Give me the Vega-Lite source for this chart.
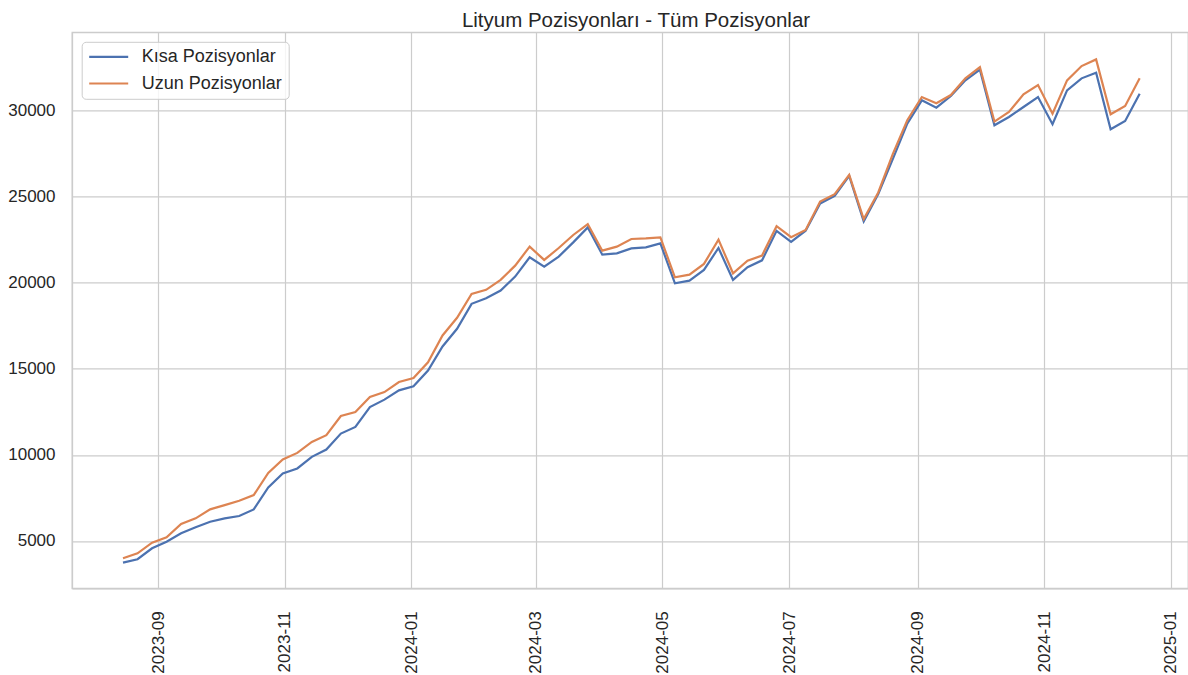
{
  "$schema": "https://vega.github.io/schema/vega-lite/v6.json",
  "autosize": {"type": "none"},
  "padding": {"left": 72, "top": 32.3, "right": 0, "bottom": 86.7},
  "width": 1116,
  "height": 556,
  "background": "white",
  "title": {
    "text": "Lityum Pozisyonları - Tüm Pozisyonlar",
    "fontSize": 20.5,
    "fontWeight": "normal",
    "color": "#262626",
    "font": "Liberation Sans",
    "anchor": "middle",
    "frame": "group",
    "baseline": "alphabetic",
    "offset": 6.6,
    "dx": 6,
    "dy": 22
  },
  "config": {
    "font": "Liberation Sans",
    "view": {"stroke": "#cccccc", "strokeWidth": 1.3},
    "axis": {
      "gridColor": "#cccccc",
      "gridWidth": 1.2,
      "domainColor": "#cccccc",
      "domainWidth": 1.3,
      "ticks": false,
      "tickSize": 0,
      "labelColor": "#262626",
      "labelFont": "Liberation Sans",
      "labelFontSize": 17,
      "title": null
    }
  },
  "data": {
    "values": [
      {"d": "2023-08-15", "Kısa Pozisyonlar": 3743, "Uzun Pozisyonlar": 4000},
      {"d": "2023-08-22", "Kısa Pozisyonlar": 3940, "Uzun Pozisyonlar": 4287},
      {"d": "2023-08-29", "Kısa Pozisyonlar": 4577, "Uzun Pozisyonlar": 4903},
      {"d": "2023-09-05", "Kısa Pozisyonlar": 4960, "Uzun Pozisyonlar": 5212},
      {"d": "2023-09-12", "Kısa Pozisyonlar": 5446, "Uzun Pozisyonlar": 5985},
      {"d": "2023-09-19", "Kısa Pozisyonlar": 5794, "Uzun Pozisyonlar": 6315},
      {"d": "2023-09-26", "Kısa Pozisyonlar": 6118, "Uzun Pozisyonlar": 6836},
      {"d": "2023-10-03", "Kısa Pozisyonlar": 6315, "Uzun Pozisyonlar": 7086},
      {"d": "2023-10-10", "Kısa Pozisyonlar": 6448, "Uzun Pozisyonlar": 7335},
      {"d": "2023-10-17", "Kısa Pozisyonlar": 6836, "Uzun Pozisyonlar": 7665},
      {"d": "2023-10-24", "Kısa Pozisyonlar": 8111, "Uzun Pozisyonlar": 8957},
      {"d": "2023-10-31", "Kısa Pozisyonlar": 8922, "Uzun Pozisyonlar": 9733},
      {"d": "2023-11-07", "Kısa Pozisyonlar": 9212, "Uzun Pozisyonlar": 10116},
      {"d": "2023-11-14", "Kısa Pozisyonlar": 9884, "Uzun Pozisyonlar": 10753},
      {"d": "2023-11-21", "Kısa Pozisyonlar": 10313, "Uzun Pozisyonlar": 11142},
      {"d": "2023-11-28", "Kısa Pozisyonlar": 11240, "Uzun Pozisyonlar": 12260},
      {"d": "2023-12-05", "Kısa Pozisyonlar": 11622, "Uzun Pozisyonlar": 12491},
      {"d": "2023-12-12", "Kısa Pozisyonlar": 12781, "Uzun Pozisyonlar": 13360},
      {"d": "2023-12-19", "Kısa Pozisyonlar": 13209, "Uzun Pozisyonlar": 13650},
      {"d": "2023-12-26", "Kısa Pozisyonlar": 13749, "Uzun Pozisyonlar": 14230},
      {"d": "2024-01-02", "Kısa Pozisyonlar": 13981, "Uzun Pozisyonlar": 14462},
      {"d": "2024-01-09", "Kısa Pozisyonlar": 14900, "Uzun Pozisyonlar": 15380},
      {"d": "2024-01-16", "Kısa Pozisyonlar": 16298, "Uzun Pozisyonlar": 16936},
      {"d": "2024-01-23", "Kısa Pozisyonlar": 17323, "Uzun Pozisyonlar": 17961},
      {"d": "2024-01-30", "Kısa Pozisyonlar": 18772, "Uzun Pozisyonlar": 19352},
      {"d": "2024-02-06", "Kısa Pozisyonlar": 19097, "Uzun Pozisyonlar": 19584},
      {"d": "2024-02-13", "Kısa Pozisyonlar": 19543, "Uzun Pozisyonlar": 20163},
      {"d": "2024-02-20", "Kısa Pozisyonlar": 20354, "Uzun Pozisyonlar": 20990},
      {"d": "2024-02-27", "Kısa Pozisyonlar": 21472, "Uzun Pozisyonlar": 22092},
      {"d": "2024-03-05", "Kısa Pozisyonlar": 20934, "Uzun Pozisyonlar": 21322},
      {"d": "2024-03-12", "Kısa Pozisyonlar": 21513, "Uzun Pozisyonlar": 22015},
      {"d": "2024-03-19", "Kısa Pozisyonlar": 22342, "Uzun Pozisyonlar": 22770},
      {"d": "2024-03-26", "Kısa Pozisyonlar": 23210, "Uzun Pozisyonlar": 23407},
      {"d": "2024-04-02", "Kısa Pozisyonlar": 21629, "Uzun Pozisyonlar": 21860},
      {"d": "2024-04-09", "Kısa Pozisyonlar": 21704, "Uzun Pozisyonlar": 22092},
      {"d": "2024-04-16", "Kısa Pozisyonlar": 21994, "Uzun Pozisyonlar": 22538},
      {"d": "2024-04-23", "Kısa Pozisyonlar": 22052, "Uzun Pozisyonlar": 22575},
      {"d": "2024-04-30", "Kısa Pozisyonlar": 22284, "Uzun Pozisyonlar": 22633},
      {"d": "2024-05-07", "Kısa Pozisyonlar": 19967, "Uzun Pozisyonlar": 20313},
      {"d": "2024-05-14", "Kısa Pozisyonlar": 20122, "Uzun Pozisyonlar": 20470},
      {"d": "2024-05-21", "Kısa Pozisyonlar": 20743, "Uzun Pozisyonlar": 21090},
      {"d": "2024-05-28", "Kısa Pozisyonlar": 22017, "Uzun Pozisyonlar": 22498},
      {"d": "2024-06-04", "Kısa Pozisyonlar": 20161, "Uzun Pozisyonlar": 20545},
      {"d": "2024-06-11", "Kısa Pozisyonlar": 20896, "Uzun Pozisyonlar": 21281},
      {"d": "2024-06-18", "Kısa Pozisyonlar": 21300, "Uzun Pozisyonlar": 21580},
      {"d": "2024-06-25", "Kısa Pozisyonlar": 23010, "Uzun Pozisyonlar": 23280},
      {"d": "2024-07-02", "Kısa Pozisyonlar": 22370, "Uzun Pozisyonlar": 22640},
      {"d": "2024-07-09", "Kısa Pozisyonlar": 23019, "Uzun Pozisyonlar": 23060},
      {"d": "2024-07-16", "Kısa Pozisyonlar": 24601, "Uzun Pozisyonlar": 24717},
      {"d": "2024-07-23", "Kısa Pozisyonlar": 25047, "Uzun Pozisyonlar": 25144},
      {"d": "2024-07-30", "Kısa Pozisyonlar": 26206, "Uzun Pozisyonlar": 26264},
      {"d": "2024-08-06", "Kısa Pozisyonlar": 23558, "Uzun Pozisyonlar": 23697},
      {"d": "2024-08-13", "Kısa Pozisyonlar": 25144, "Uzun Pozisyonlar": 25240},
      {"d": "2024-08-20", "Kısa Pozisyonlar": 27173, "Uzun Pozisyonlar": 27463},
      {"d": "2024-08-27", "Kısa Pozisyonlar": 29237, "Uzun Pozisyonlar": 29433},
      {"d": "2024-09-03", "Kısa Pozisyonlar": 30592, "Uzun Pozisyonlar": 30783},
      {"d": "2024-09-10", "Kısa Pozisyonlar": 30163, "Uzun Pozisyonlar": 30418},
      {"d": "2024-09-17", "Kısa Pozisyonlar": 30841, "Uzun Pozisyonlar": 30899},
      {"d": "2024-09-24", "Kısa Pozisyonlar": 31751, "Uzun Pozisyonlar": 31867},
      {"d": "2024-10-01", "Kısa Pozisyonlar": 32371, "Uzun Pozisyonlar": 32521},
      {"d": "2024-10-08", "Kısa Pozisyonlar": 29143, "Uzun Pozisyonlar": 29355},
      {"d": "2024-10-15", "Kısa Pozisyonlar": 29624, "Uzun Pozisyonlar": 29914},
      {"d": "2024-10-22", "Kısa Pozisyonlar": 30203, "Uzun Pozisyonlar": 30938},
      {"d": "2024-10-29", "Kısa Pozisyonlar": 30783, "Uzun Pozisyonlar": 31477},
      {"d": "2024-11-05", "Kısa Pozisyonlar": 29201, "Uzun Pozisyonlar": 29817},
      {"d": "2024-11-12", "Kısa Pozisyonlar": 31171, "Uzun Pozisyonlar": 31751},
      {"d": "2024-11-19", "Kısa Pozisyonlar": 31867, "Uzun Pozisyonlar": 32579},
      {"d": "2024-11-26", "Kısa Pozisyonlar": 32192, "Uzun Pozisyonlar": 32967},
      {"d": "2024-12-03", "Kısa Pozisyonlar": 28911, "Uzun Pozisyonlar": 29780},
      {"d": "2024-12-10", "Kısa Pozisyonlar": 29392, "Uzun Pozisyonlar": 30260},
      {"d": "2024-12-17", "Kısa Pozisyonlar": 30976, "Uzun Pozisyonlar": 31867}
    ]
  },
  "transform": [
    {"fold": ["Kısa Pozisyonlar", "Uzun Pozisyonlar"], "as": ["seri", "deger"]}
  ],
  "mark": {"type": "line", "strokeWidth": 2.2, "clip": true},
  "encoding": {
    "x": {
      "field": "d",
      "type": "temporal",
      "scale": {"type": "utc", "domain": ["2023-07-21T10:00:00Z", "2025-01-09T07:00:00Z"]},
      "axis": {
        "values": [
          {"year": 2023, "month": 9, "date": 1, "utc": true},
          {"year": 2023, "month": 11, "date": 1, "utc": true},
          {"year": 2024, "month": 1, "date": 1, "utc": true},
          {"year": 2024, "month": 3, "date": 1, "utc": true},
          {"year": 2024, "month": 5, "date": 1, "utc": true},
          {"year": 2024, "month": 7, "date": 1, "utc": true},
          {"year": 2024, "month": 9, "date": 1, "utc": true},
          {"year": 2024, "month": 11, "date": 1, "utc": true},
          {"year": 2025, "month": 1, "date": 1, "utc": true}
        ],
        "format": "%Y-%m",
        "labelAngle": 270,
        "labelAlign": "right",
        "labelBaseline": "middle",
        "labelPadding": 22.5,
        "labelOverlap": false,
        "labelBound": false,
        "labelFlush": false
      }
    },
    "y": {
      "field": "deger",
      "type": "quantitative",
      "scale": {"domain": [2253, 34541], "nice": false, "zero": false},
      "axis": {
        "values": [5000, 10000, 15000, 20000, 25000, 30000],
        "format": "d",
        "labelPadding": 17,
        "labelBaseline": "middle"
      }
    },
    "color": {
      "field": "seri",
      "type": "nominal",
      "scale": {"domain": ["Kısa Pozisyonlar", "Uzun Pozisyonlar"], "range": ["#4C72B0", "#DD8452"]},
      "legend": {
        "title": null,
        "orient": "none",
        "legendX": 9.7,
        "legendY": 9.5,
        "direction": "vertical",
        "symbolType": "stroke",
        "symbolSize": 1521,
        "symbolStrokeWidth": 2.2,
        "clipHeight": 18,
        "rowPadding": 8.7,
        "padding": 6,
        "labelOffset": 12,
        "labelFontSize": 18,
        "labelColor": "#262626",
        "labelFont": "Liberation Sans",
        "fillColor": "rgba(255,255,255,0.8)",
        "strokeColor": "#cccccc",
        "cornerRadius": 4
      }
    }
  }
}
